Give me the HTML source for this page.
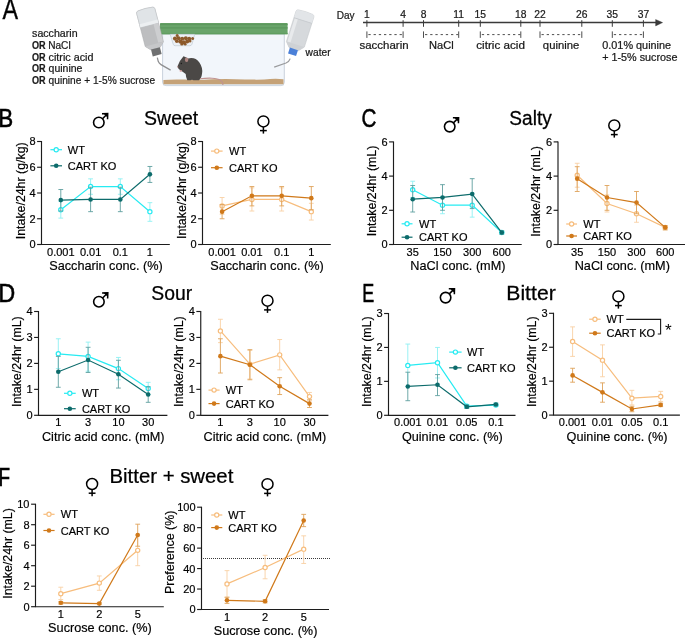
<!DOCTYPE html>
<html><head><meta charset="utf-8"><style>
html,body{margin:0;padding:0;background:#fff;}
body{width:685px;height:638px;overflow:hidden;}
svg{display:block;font-family:"Liberation Sans", sans-serif;will-change:transform;}
</style></head><body>
<svg width="685" height="638" viewBox="0 0 685 638">
<rect width="685" height="638" fill="#fff"/>
<path d="M41.50,141.00 L41.50,244.50 L169.80,244.50" fill="none" stroke="#1c1c1c" stroke-width="1.15"/>
<line x1="37.10" y1="244.50" x2="41.50" y2="244.50" stroke="#1c1c1c" stroke-width="1.15" />
<text x="35.50" y="248.45" font-size="11" text-anchor="end" font-weight="normal" fill="#000" stroke="#000" stroke-width="0.18">0</text>
<line x1="37.10" y1="218.75" x2="41.50" y2="218.75" stroke="#1c1c1c" stroke-width="1.15" />
<text x="35.50" y="222.70" font-size="11" text-anchor="end" font-weight="normal" fill="#000" stroke="#000" stroke-width="0.18">2</text>
<line x1="37.10" y1="193.00" x2="41.50" y2="193.00" stroke="#1c1c1c" stroke-width="1.15" />
<text x="35.50" y="196.95" font-size="11" text-anchor="end" font-weight="normal" fill="#000" stroke="#000" stroke-width="0.18">4</text>
<line x1="37.10" y1="167.25" x2="41.50" y2="167.25" stroke="#1c1c1c" stroke-width="1.15" />
<text x="35.50" y="171.20" font-size="11" text-anchor="end" font-weight="normal" fill="#000" stroke="#000" stroke-width="0.18">6</text>
<line x1="37.10" y1="141.50" x2="41.50" y2="141.50" stroke="#1c1c1c" stroke-width="1.15" />
<text x="35.50" y="145.45" font-size="11" text-anchor="end" font-weight="normal" fill="#000" stroke="#000" stroke-width="0.18">8</text>
<text x="60.80" y="255.50" font-size="11" text-anchor="middle" font-weight="normal" fill="#000" stroke="#000" stroke-width="0.18">0.001</text>
<text x="90.60" y="255.50" font-size="11" text-anchor="middle" font-weight="normal" fill="#000" stroke="#000" stroke-width="0.18">0.01</text>
<text x="120.30" y="255.50" font-size="11" text-anchor="middle" font-weight="normal" fill="#000" stroke="#000" stroke-width="0.18">0.1</text>
<text x="149.90" y="255.50" font-size="11" text-anchor="middle" font-weight="normal" fill="#000" stroke="#000" stroke-width="0.18">1</text>
<text x="105.95" y="270.00" font-size="12.7" text-anchor="middle" font-weight="normal" fill="#000" stroke="#000" stroke-width="0.18">Saccharin conc. (%)</text>
<text x="0" y="0" font-size="12.9" stroke="#000" stroke-width="0.18" text-anchor="middle" textLength="96.8" lengthAdjust="spacingAndGlyphs" transform="translate(24.80,190.80) rotate(-90)">Intake/24hr (g/kg)</text>
<line x1="60.80" y1="218.11" x2="60.80" y2="201.37" stroke="#8ff0f3" stroke-width="0.9" />
<line x1="58.40" y1="218.11" x2="63.20" y2="218.11" stroke="#8ff0f3" stroke-width="0.9" />
<line x1="58.40" y1="201.37" x2="63.20" y2="201.37" stroke="#8ff0f3" stroke-width="0.9" />
<line x1="90.60" y1="194.29" x2="90.60" y2="178.84" stroke="#8ff0f3" stroke-width="0.9" />
<line x1="88.20" y1="194.29" x2="93.00" y2="194.29" stroke="#8ff0f3" stroke-width="0.9" />
<line x1="88.20" y1="178.84" x2="93.00" y2="178.84" stroke="#8ff0f3" stroke-width="0.9" />
<line x1="120.30" y1="194.29" x2="120.30" y2="178.84" stroke="#8ff0f3" stroke-width="0.9" />
<line x1="117.90" y1="194.29" x2="122.70" y2="194.29" stroke="#8ff0f3" stroke-width="0.9" />
<line x1="117.90" y1="178.84" x2="122.70" y2="178.84" stroke="#8ff0f3" stroke-width="0.9" />
<line x1="149.90" y1="221.32" x2="149.90" y2="202.66" stroke="#8ff0f3" stroke-width="0.9" />
<line x1="147.50" y1="221.32" x2="152.30" y2="221.32" stroke="#8ff0f3" stroke-width="0.9" />
<line x1="147.50" y1="202.66" x2="152.30" y2="202.66" stroke="#8ff0f3" stroke-width="0.9" />
<path d="M60.80,209.74 L90.60,186.56 L120.30,186.56 L149.90,211.67" fill="none" stroke="#26ebf2" stroke-width="1.2"/>
<circle cx="60.80" cy="209.74" r="2.1" fill="#fff" stroke="#26ebf2" stroke-width="1.2"/>
<circle cx="90.60" cy="186.56" r="2.1" fill="#fff" stroke="#26ebf2" stroke-width="1.2"/>
<circle cx="120.30" cy="186.56" r="2.1" fill="#fff" stroke="#26ebf2" stroke-width="1.2"/>
<circle cx="149.90" cy="211.67" r="2.1" fill="#fff" stroke="#26ebf2" stroke-width="1.2"/>
<line x1="60.80" y1="211.03" x2="60.80" y2="189.52" stroke="#5f9f9f" stroke-width="0.9" />
<line x1="58.40" y1="211.03" x2="63.20" y2="211.03" stroke="#5f9f9f" stroke-width="0.9" />
<line x1="58.40" y1="189.52" x2="63.20" y2="189.52" stroke="#5f9f9f" stroke-width="0.9" />
<line x1="90.60" y1="211.67" x2="90.60" y2="187.21" stroke="#5f9f9f" stroke-width="0.9" />
<line x1="88.20" y1="211.67" x2="93.00" y2="211.67" stroke="#5f9f9f" stroke-width="0.9" />
<line x1="88.20" y1="187.21" x2="93.00" y2="187.21" stroke="#5f9f9f" stroke-width="0.9" />
<line x1="120.30" y1="211.67" x2="120.30" y2="187.21" stroke="#5f9f9f" stroke-width="0.9" />
<line x1="117.90" y1="211.67" x2="122.70" y2="211.67" stroke="#5f9f9f" stroke-width="0.9" />
<line x1="117.90" y1="187.21" x2="122.70" y2="187.21" stroke="#5f9f9f" stroke-width="0.9" />
<line x1="149.90" y1="182.44" x2="149.90" y2="166.48" stroke="#5f9f9f" stroke-width="0.9" />
<line x1="147.50" y1="182.44" x2="152.30" y2="182.44" stroke="#5f9f9f" stroke-width="0.9" />
<line x1="147.50" y1="166.48" x2="152.30" y2="166.48" stroke="#5f9f9f" stroke-width="0.9" />
<path d="M60.80,200.08 L90.60,199.44 L120.30,199.44 L149.90,174.33" fill="none" stroke="#0c6b6b" stroke-width="1.2"/>
<circle cx="60.80" cy="200.08" r="2.3" fill="#0c6b6b"/>
<circle cx="90.60" cy="199.44" r="2.3" fill="#0c6b6b"/>
<circle cx="120.30" cy="199.44" r="2.3" fill="#0c6b6b"/>
<circle cx="149.90" cy="174.33" r="2.3" fill="#0c6b6b"/>
<line x1="50.40" y1="149.70" x2="62.00" y2="149.70" stroke="#26ebf2" stroke-width="1.2" />
<circle cx="56.20" cy="149.70" r="2.1" fill="#fff" stroke="#26ebf2" stroke-width="1.2"/>
<text x="67.80" y="153.70" font-size="11" text-anchor="start" font-weight="normal" fill="#000" stroke="#000" stroke-width="0.18">WT</text>
<line x1="50.40" y1="165.80" x2="62.00" y2="165.80" stroke="#0c6b6b" stroke-width="1.2" />
<circle cx="56.20" cy="165.80" r="2.3" fill="#0c6b6b"/>
<text x="67.80" y="169.80" font-size="11" text-anchor="start" font-weight="normal" fill="#000" stroke="#000" stroke-width="0.18">CART KO</text>
<path d="M202.50,141.00 L202.50,244.50 L330.80,244.50" fill="none" stroke="#1c1c1c" stroke-width="1.15"/>
<line x1="198.10" y1="244.50" x2="202.50" y2="244.50" stroke="#1c1c1c" stroke-width="1.15" />
<text x="196.50" y="248.45" font-size="11" text-anchor="end" font-weight="normal" fill="#000" stroke="#000" stroke-width="0.18">0</text>
<line x1="198.10" y1="218.75" x2="202.50" y2="218.75" stroke="#1c1c1c" stroke-width="1.15" />
<text x="196.50" y="222.70" font-size="11" text-anchor="end" font-weight="normal" fill="#000" stroke="#000" stroke-width="0.18">2</text>
<line x1="198.10" y1="193.00" x2="202.50" y2="193.00" stroke="#1c1c1c" stroke-width="1.15" />
<text x="196.50" y="196.95" font-size="11" text-anchor="end" font-weight="normal" fill="#000" stroke="#000" stroke-width="0.18">4</text>
<line x1="198.10" y1="167.25" x2="202.50" y2="167.25" stroke="#1c1c1c" stroke-width="1.15" />
<text x="196.50" y="171.20" font-size="11" text-anchor="end" font-weight="normal" fill="#000" stroke="#000" stroke-width="0.18">6</text>
<line x1="198.10" y1="141.50" x2="202.50" y2="141.50" stroke="#1c1c1c" stroke-width="1.15" />
<text x="196.50" y="145.45" font-size="11" text-anchor="end" font-weight="normal" fill="#000" stroke="#000" stroke-width="0.18">8</text>
<text x="222.10" y="255.50" font-size="11" text-anchor="middle" font-weight="normal" fill="#000" stroke="#000" stroke-width="0.18">0.001</text>
<text x="251.90" y="255.50" font-size="11" text-anchor="middle" font-weight="normal" fill="#000" stroke="#000" stroke-width="0.18">0.01</text>
<text x="281.70" y="255.50" font-size="11" text-anchor="middle" font-weight="normal" fill="#000" stroke="#000" stroke-width="0.18">0.1</text>
<text x="311.30" y="255.50" font-size="11" text-anchor="middle" font-weight="normal" fill="#000" stroke="#000" stroke-width="0.18">1</text>
<text x="266.95" y="270.00" font-size="12.7" text-anchor="middle" font-weight="normal" fill="#000" stroke="#000" stroke-width="0.18">Saccharin conc. (%)</text>
<text x="0" y="0" font-size="12.9" stroke="#000" stroke-width="0.18" text-anchor="middle" textLength="96.8" lengthAdjust="spacingAndGlyphs" transform="translate(185.90,190.50) rotate(-90)">Intake/24hr (g/kg)</text>
<line x1="222.10" y1="214.24" x2="222.10" y2="197.51" stroke="#f8d0a4" stroke-width="0.9" />
<line x1="219.70" y1="214.24" x2="224.50" y2="214.24" stroke="#f8d0a4" stroke-width="0.9" />
<line x1="219.70" y1="197.51" x2="224.50" y2="197.51" stroke="#f8d0a4" stroke-width="0.9" />
<line x1="251.90" y1="211.03" x2="251.90" y2="187.85" stroke="#f8d0a4" stroke-width="0.9" />
<line x1="249.50" y1="211.03" x2="254.30" y2="211.03" stroke="#f8d0a4" stroke-width="0.9" />
<line x1="249.50" y1="187.85" x2="254.30" y2="187.85" stroke="#f8d0a4" stroke-width="0.9" />
<line x1="281.70" y1="211.03" x2="281.70" y2="187.85" stroke="#f8d0a4" stroke-width="0.9" />
<line x1="279.30" y1="211.03" x2="284.10" y2="211.03" stroke="#f8d0a4" stroke-width="0.9" />
<line x1="279.30" y1="187.85" x2="284.10" y2="187.85" stroke="#f8d0a4" stroke-width="0.9" />
<line x1="311.30" y1="220.04" x2="311.30" y2="203.30" stroke="#f8d0a4" stroke-width="0.9" />
<line x1="308.90" y1="220.04" x2="313.70" y2="220.04" stroke="#f8d0a4" stroke-width="0.9" />
<line x1="308.90" y1="203.30" x2="313.70" y2="203.30" stroke="#f8d0a4" stroke-width="0.9" />
<path d="M222.10,205.88 L251.90,199.44 L281.70,199.44 L311.30,211.67" fill="none" stroke="#f7bd7d" stroke-width="1.2"/>
<circle cx="222.10" cy="205.88" r="2.1" fill="#fff" stroke="#f7bd7d" stroke-width="1.2"/>
<circle cx="251.90" cy="199.44" r="2.1" fill="#fff" stroke="#f7bd7d" stroke-width="1.2"/>
<circle cx="281.70" cy="199.44" r="2.1" fill="#fff" stroke="#f7bd7d" stroke-width="1.2"/>
<circle cx="311.30" cy="211.67" r="2.1" fill="#fff" stroke="#f7bd7d" stroke-width="1.2"/>
<line x1="222.10" y1="218.75" x2="222.10" y2="204.59" stroke="#dfa35a" stroke-width="0.9" />
<line x1="219.70" y1="218.75" x2="224.50" y2="218.75" stroke="#dfa35a" stroke-width="0.9" />
<line x1="219.70" y1="204.59" x2="224.50" y2="204.59" stroke="#dfa35a" stroke-width="0.9" />
<line x1="251.90" y1="205.88" x2="251.90" y2="186.56" stroke="#dfa35a" stroke-width="0.9" />
<line x1="249.50" y1="205.88" x2="254.30" y2="205.88" stroke="#dfa35a" stroke-width="0.9" />
<line x1="249.50" y1="186.56" x2="254.30" y2="186.56" stroke="#dfa35a" stroke-width="0.9" />
<line x1="281.70" y1="205.88" x2="281.70" y2="186.56" stroke="#dfa35a" stroke-width="0.9" />
<line x1="279.30" y1="205.88" x2="284.10" y2="205.88" stroke="#dfa35a" stroke-width="0.9" />
<line x1="279.30" y1="186.56" x2="284.10" y2="186.56" stroke="#dfa35a" stroke-width="0.9" />
<line x1="311.30" y1="209.74" x2="311.30" y2="186.56" stroke="#dfa35a" stroke-width="0.9" />
<line x1="308.90" y1="209.74" x2="313.70" y2="209.74" stroke="#dfa35a" stroke-width="0.9" />
<line x1="308.90" y1="186.56" x2="313.70" y2="186.56" stroke="#dfa35a" stroke-width="0.9" />
<path d="M222.10,211.67 L251.90,195.83 L281.70,195.83 L311.30,198.15" fill="none" stroke="#d0791a" stroke-width="1.2"/>
<circle cx="222.10" cy="211.67" r="2.3" fill="#d0791a"/>
<circle cx="251.90" cy="195.83" r="2.3" fill="#d0791a"/>
<circle cx="281.70" cy="195.83" r="2.3" fill="#d0791a"/>
<circle cx="311.30" cy="198.15" r="2.3" fill="#d0791a"/>
<line x1="211.00" y1="151.10" x2="222.60" y2="151.10" stroke="#f7bd7d" stroke-width="1.2" />
<circle cx="216.80" cy="151.10" r="2.1" fill="#fff" stroke="#f7bd7d" stroke-width="1.2"/>
<text x="229.00" y="155.10" font-size="11" text-anchor="start" font-weight="normal" fill="#000" stroke="#000" stroke-width="0.18">WT</text>
<line x1="211.00" y1="167.70" x2="222.60" y2="167.70" stroke="#d0791a" stroke-width="1.2" />
<circle cx="216.80" cy="167.70" r="2.3" fill="#d0791a"/>
<text x="229.00" y="171.70" font-size="11" text-anchor="start" font-weight="normal" fill="#000" stroke="#000" stroke-width="0.18">CART KO</text>
<path d="M393.50,141.40 L393.50,244.50 L521.70,244.50" fill="none" stroke="#1c1c1c" stroke-width="1.15"/>
<line x1="389.10" y1="244.50" x2="393.50" y2="244.50" stroke="#1c1c1c" stroke-width="1.15" />
<text x="387.50" y="248.45" font-size="11" text-anchor="end" font-weight="normal" fill="#000" stroke="#000" stroke-width="0.18">0</text>
<line x1="389.10" y1="210.30" x2="393.50" y2="210.30" stroke="#1c1c1c" stroke-width="1.15" />
<text x="387.50" y="214.25" font-size="11" text-anchor="end" font-weight="normal" fill="#000" stroke="#000" stroke-width="0.18">2</text>
<line x1="389.10" y1="176.10" x2="393.50" y2="176.10" stroke="#1c1c1c" stroke-width="1.15" />
<text x="387.50" y="180.05" font-size="11" text-anchor="end" font-weight="normal" fill="#000" stroke="#000" stroke-width="0.18">4</text>
<line x1="389.10" y1="141.90" x2="393.50" y2="141.90" stroke="#1c1c1c" stroke-width="1.15" />
<text x="387.50" y="145.85" font-size="11" text-anchor="end" font-weight="normal" fill="#000" stroke="#000" stroke-width="0.18">6</text>
<text x="412.70" y="255.50" font-size="11" text-anchor="middle" font-weight="normal" fill="#000" stroke="#000" stroke-width="0.18">35</text>
<text x="442.50" y="255.50" font-size="11" text-anchor="middle" font-weight="normal" fill="#000" stroke="#000" stroke-width="0.18">150</text>
<text x="472.20" y="255.50" font-size="11" text-anchor="middle" font-weight="normal" fill="#000" stroke="#000" stroke-width="0.18">300</text>
<text x="501.80" y="255.50" font-size="11" text-anchor="middle" font-weight="normal" fill="#000" stroke="#000" stroke-width="0.18">600</text>
<text x="457.90" y="270.00" font-size="12.7" text-anchor="middle" font-weight="normal" fill="#000" stroke="#000" stroke-width="0.18">NaCl conc. (mM)</text>
<text x="0" y="0" font-size="12.9" stroke="#000" stroke-width="0.18" text-anchor="middle" textLength="90.6" lengthAdjust="spacingAndGlyphs" transform="translate(375.60,190.95) rotate(-90)">Intake/24hr (mL)</text>
<line x1="412.70" y1="197.47" x2="412.70" y2="181.23" stroke="#8ff0f3" stroke-width="0.9" />
<line x1="410.30" y1="197.47" x2="415.10" y2="197.47" stroke="#8ff0f3" stroke-width="0.9" />
<line x1="410.30" y1="181.23" x2="415.10" y2="181.23" stroke="#8ff0f3" stroke-width="0.9" />
<line x1="442.50" y1="213.72" x2="442.50" y2="196.62" stroke="#8ff0f3" stroke-width="0.9" />
<line x1="440.10" y1="213.72" x2="444.90" y2="213.72" stroke="#8ff0f3" stroke-width="0.9" />
<line x1="440.10" y1="196.62" x2="444.90" y2="196.62" stroke="#8ff0f3" stroke-width="0.9" />
<line x1="472.20" y1="217.14" x2="472.20" y2="193.20" stroke="#8ff0f3" stroke-width="0.9" />
<line x1="469.80" y1="217.14" x2="474.60" y2="217.14" stroke="#8ff0f3" stroke-width="0.9" />
<line x1="469.80" y1="193.20" x2="474.60" y2="193.20" stroke="#8ff0f3" stroke-width="0.9" />
<line x1="501.80" y1="233.90" x2="501.80" y2="231.16" stroke="#8ff0f3" stroke-width="0.9" />
<line x1="499.40" y1="233.90" x2="504.20" y2="233.90" stroke="#8ff0f3" stroke-width="0.9" />
<line x1="499.40" y1="231.16" x2="504.20" y2="231.16" stroke="#8ff0f3" stroke-width="0.9" />
<path d="M412.70,189.78 L442.50,205.17 L472.20,205.17 L501.80,232.53" fill="none" stroke="#26ebf2" stroke-width="1.2"/>
<circle cx="412.70" cy="189.78" r="2.1" fill="#fff" stroke="#26ebf2" stroke-width="1.2"/>
<circle cx="442.50" cy="205.17" r="2.1" fill="#fff" stroke="#26ebf2" stroke-width="1.2"/>
<circle cx="472.20" cy="205.17" r="2.1" fill="#fff" stroke="#26ebf2" stroke-width="1.2"/>
<circle cx="501.80" cy="232.53" r="2.1" fill="#fff" stroke="#26ebf2" stroke-width="1.2"/>
<line x1="412.70" y1="212.01" x2="412.70" y2="185.50" stroke="#5f9f9f" stroke-width="0.9" />
<line x1="410.30" y1="212.01" x2="415.10" y2="212.01" stroke="#5f9f9f" stroke-width="0.9" />
<line x1="410.30" y1="185.50" x2="415.10" y2="185.50" stroke="#5f9f9f" stroke-width="0.9" />
<line x1="442.50" y1="210.30" x2="442.50" y2="184.65" stroke="#5f9f9f" stroke-width="0.9" />
<line x1="440.10" y1="210.30" x2="444.90" y2="210.30" stroke="#5f9f9f" stroke-width="0.9" />
<line x1="440.10" y1="184.65" x2="444.90" y2="184.65" stroke="#5f9f9f" stroke-width="0.9" />
<line x1="472.20" y1="208.59" x2="472.20" y2="178.66" stroke="#5f9f9f" stroke-width="0.9" />
<line x1="469.80" y1="208.59" x2="474.60" y2="208.59" stroke="#5f9f9f" stroke-width="0.9" />
<line x1="469.80" y1="178.66" x2="474.60" y2="178.66" stroke="#5f9f9f" stroke-width="0.9" />
<line x1="501.80" y1="234.24" x2="501.80" y2="230.82" stroke="#5f9f9f" stroke-width="0.9" />
<line x1="499.40" y1="234.24" x2="504.20" y2="234.24" stroke="#5f9f9f" stroke-width="0.9" />
<line x1="499.40" y1="230.82" x2="504.20" y2="230.82" stroke="#5f9f9f" stroke-width="0.9" />
<path d="M412.70,199.19 L442.50,197.47 L472.20,194.06 L501.80,232.53" fill="none" stroke="#0c6b6b" stroke-width="1.2"/>
<circle cx="412.70" cy="199.19" r="2.3" fill="#0c6b6b"/>
<circle cx="442.50" cy="197.47" r="2.3" fill="#0c6b6b"/>
<circle cx="472.20" cy="194.06" r="2.3" fill="#0c6b6b"/>
<circle cx="501.80" cy="232.53" r="2.3" fill="#0c6b6b"/>
<line x1="401.60" y1="223.80" x2="412.50" y2="223.80" stroke="#26ebf2" stroke-width="1.2" />
<circle cx="407.05" cy="223.80" r="2.1" fill="#fff" stroke="#26ebf2" stroke-width="1.2"/>
<text x="419.00" y="227.80" font-size="11" text-anchor="start" font-weight="normal" fill="#000" stroke="#000" stroke-width="0.18">WT</text>
<line x1="401.60" y1="237.20" x2="412.50" y2="237.20" stroke="#0c6b6b" stroke-width="1.2" />
<circle cx="407.05" cy="237.20" r="2.3" fill="#0c6b6b"/>
<text x="419.00" y="241.20" font-size="11" text-anchor="start" font-weight="normal" fill="#000" stroke="#000" stroke-width="0.18">CART KO</text>
<path d="M558.00,141.40 L558.00,244.50 L686.00,244.50" fill="none" stroke="#1c1c1c" stroke-width="1.15"/>
<line x1="553.60" y1="244.50" x2="558.00" y2="244.50" stroke="#1c1c1c" stroke-width="1.15" />
<text x="552.00" y="248.45" font-size="11" text-anchor="end" font-weight="normal" fill="#000" stroke="#000" stroke-width="0.18">0</text>
<line x1="553.60" y1="210.30" x2="558.00" y2="210.30" stroke="#1c1c1c" stroke-width="1.15" />
<text x="552.00" y="214.25" font-size="11" text-anchor="end" font-weight="normal" fill="#000" stroke="#000" stroke-width="0.18">2</text>
<line x1="553.60" y1="176.10" x2="558.00" y2="176.10" stroke="#1c1c1c" stroke-width="1.15" />
<text x="552.00" y="180.05" font-size="11" text-anchor="end" font-weight="normal" fill="#000" stroke="#000" stroke-width="0.18">4</text>
<line x1="553.60" y1="141.90" x2="558.00" y2="141.90" stroke="#1c1c1c" stroke-width="1.15" />
<text x="552.00" y="145.85" font-size="11" text-anchor="end" font-weight="normal" fill="#000" stroke="#000" stroke-width="0.18">6</text>
<text x="577.20" y="255.50" font-size="11" text-anchor="middle" font-weight="normal" fill="#000" stroke="#000" stroke-width="0.18">35</text>
<text x="607.00" y="255.50" font-size="11" text-anchor="middle" font-weight="normal" fill="#000" stroke="#000" stroke-width="0.18">150</text>
<text x="636.50" y="255.50" font-size="11" text-anchor="middle" font-weight="normal" fill="#000" stroke="#000" stroke-width="0.18">300</text>
<text x="665.20" y="255.50" font-size="11" text-anchor="middle" font-weight="normal" fill="#000" stroke="#000" stroke-width="0.18">600</text>
<text x="622.30" y="270.00" font-size="12.7" text-anchor="middle" font-weight="normal" fill="#000" stroke="#000" stroke-width="0.18">NaCl conc. (mM)</text>
<text x="0" y="0" font-size="12.9" stroke="#000" stroke-width="0.18" text-anchor="middle" textLength="90.6" lengthAdjust="spacingAndGlyphs" transform="translate(540.10,191.45) rotate(-90)">Intake/24hr (mL)</text>
<line x1="577.20" y1="187.22" x2="577.20" y2="163.27" stroke="#f8d0a4" stroke-width="0.9" />
<line x1="574.80" y1="187.22" x2="579.60" y2="187.22" stroke="#f8d0a4" stroke-width="0.9" />
<line x1="574.80" y1="163.27" x2="579.60" y2="163.27" stroke="#f8d0a4" stroke-width="0.9" />
<line x1="607.00" y1="212.01" x2="607.00" y2="194.91" stroke="#f8d0a4" stroke-width="0.9" />
<line x1="604.60" y1="212.01" x2="609.40" y2="212.01" stroke="#f8d0a4" stroke-width="0.9" />
<line x1="604.60" y1="194.91" x2="609.40" y2="194.91" stroke="#f8d0a4" stroke-width="0.9" />
<line x1="636.50" y1="222.27" x2="636.50" y2="205.17" stroke="#f8d0a4" stroke-width="0.9" />
<line x1="634.10" y1="222.27" x2="638.90" y2="222.27" stroke="#f8d0a4" stroke-width="0.9" />
<line x1="634.10" y1="205.17" x2="638.90" y2="205.17" stroke="#f8d0a4" stroke-width="0.9" />
<line x1="665.20" y1="229.11" x2="665.20" y2="225.69" stroke="#f8d0a4" stroke-width="0.9" />
<line x1="662.80" y1="229.11" x2="667.60" y2="229.11" stroke="#f8d0a4" stroke-width="0.9" />
<line x1="662.80" y1="225.69" x2="667.60" y2="225.69" stroke="#f8d0a4" stroke-width="0.9" />
<path d="M577.20,175.25 L607.00,203.46 L636.50,213.72 L665.20,227.40" fill="none" stroke="#f7bd7d" stroke-width="1.2"/>
<circle cx="577.20" cy="175.25" r="2.1" fill="#fff" stroke="#f7bd7d" stroke-width="1.2"/>
<circle cx="607.00" cy="203.46" r="2.1" fill="#fff" stroke="#f7bd7d" stroke-width="1.2"/>
<circle cx="636.50" cy="213.72" r="2.1" fill="#fff" stroke="#f7bd7d" stroke-width="1.2"/>
<circle cx="665.20" cy="227.40" r="2.1" fill="#fff" stroke="#f7bd7d" stroke-width="1.2"/>
<line x1="577.20" y1="191.49" x2="577.20" y2="166.69" stroke="#dfa35a" stroke-width="0.9" />
<line x1="574.80" y1="191.49" x2="579.60" y2="191.49" stroke="#dfa35a" stroke-width="0.9" />
<line x1="574.80" y1="166.69" x2="579.60" y2="166.69" stroke="#dfa35a" stroke-width="0.9" />
<line x1="607.00" y1="210.30" x2="607.00" y2="185.50" stroke="#dfa35a" stroke-width="0.9" />
<line x1="604.60" y1="210.30" x2="609.40" y2="210.30" stroke="#dfa35a" stroke-width="0.9" />
<line x1="604.60" y1="185.50" x2="609.40" y2="185.50" stroke="#dfa35a" stroke-width="0.9" />
<line x1="636.50" y1="213.72" x2="636.50" y2="191.49" stroke="#dfa35a" stroke-width="0.9" />
<line x1="634.10" y1="213.72" x2="638.90" y2="213.72" stroke="#dfa35a" stroke-width="0.9" />
<line x1="634.10" y1="191.49" x2="638.90" y2="191.49" stroke="#dfa35a" stroke-width="0.9" />
<line x1="665.20" y1="229.97" x2="665.20" y2="225.69" stroke="#dfa35a" stroke-width="0.9" />
<line x1="662.80" y1="229.97" x2="667.60" y2="229.97" stroke="#dfa35a" stroke-width="0.9" />
<line x1="662.80" y1="225.69" x2="667.60" y2="225.69" stroke="#dfa35a" stroke-width="0.9" />
<path d="M577.20,178.66 L607.00,197.47 L636.50,202.60 L665.20,227.40" fill="none" stroke="#d0791a" stroke-width="1.2"/>
<circle cx="577.20" cy="178.66" r="2.3" fill="#d0791a"/>
<circle cx="607.00" cy="197.47" r="2.3" fill="#d0791a"/>
<circle cx="636.50" cy="202.60" r="2.3" fill="#d0791a"/>
<circle cx="665.20" cy="227.40" r="2.3" fill="#d0791a"/>
<line x1="566.20" y1="224.00" x2="577.00" y2="224.00" stroke="#f7bd7d" stroke-width="1.2" />
<circle cx="571.60" cy="224.00" r="2.1" fill="#fff" stroke="#f7bd7d" stroke-width="1.2"/>
<text x="583.30" y="228.00" font-size="11" text-anchor="start" font-weight="normal" fill="#000" stroke="#000" stroke-width="0.18">WT</text>
<line x1="566.20" y1="236.00" x2="577.00" y2="236.00" stroke="#d0791a" stroke-width="1.2" />
<circle cx="571.60" cy="236.00" r="2.3" fill="#d0791a"/>
<text x="583.30" y="240.00" font-size="11" text-anchor="start" font-weight="normal" fill="#000" stroke="#000" stroke-width="0.18">CART KO</text>
<path d="M38.50,311.00 L38.50,415.30 L167.40,415.30" fill="none" stroke="#1c1c1c" stroke-width="1.15"/>
<line x1="34.10" y1="415.30" x2="38.50" y2="415.30" stroke="#1c1c1c" stroke-width="1.15" />
<text x="32.50" y="419.25" font-size="11" text-anchor="end" font-weight="normal" fill="#000" stroke="#000" stroke-width="0.18">0</text>
<line x1="34.10" y1="389.35" x2="38.50" y2="389.35" stroke="#1c1c1c" stroke-width="1.15" />
<text x="32.50" y="393.30" font-size="11" text-anchor="end" font-weight="normal" fill="#000" stroke="#000" stroke-width="0.18">1</text>
<line x1="34.10" y1="363.40" x2="38.50" y2="363.40" stroke="#1c1c1c" stroke-width="1.15" />
<text x="32.50" y="367.35" font-size="11" text-anchor="end" font-weight="normal" fill="#000" stroke="#000" stroke-width="0.18">2</text>
<line x1="34.10" y1="337.45" x2="38.50" y2="337.45" stroke="#1c1c1c" stroke-width="1.15" />
<text x="32.50" y="341.40" font-size="11" text-anchor="end" font-weight="normal" fill="#000" stroke="#000" stroke-width="0.18">3</text>
<line x1="34.10" y1="311.50" x2="38.50" y2="311.50" stroke="#1c1c1c" stroke-width="1.15" />
<text x="32.50" y="315.45" font-size="11" text-anchor="end" font-weight="normal" fill="#000" stroke="#000" stroke-width="0.18">4</text>
<text x="58.30" y="426.30" font-size="11" text-anchor="middle" font-weight="normal" fill="#000" stroke="#000" stroke-width="0.18">1</text>
<text x="88.10" y="426.30" font-size="11" text-anchor="middle" font-weight="normal" fill="#000" stroke="#000" stroke-width="0.18">3</text>
<text x="118.40" y="426.30" font-size="11" text-anchor="middle" font-weight="normal" fill="#000" stroke="#000" stroke-width="0.18">10</text>
<text x="148.20" y="426.30" font-size="11" text-anchor="middle" font-weight="normal" fill="#000" stroke="#000" stroke-width="0.18">30</text>
<text x="103.25" y="440.80" font-size="12.7" text-anchor="middle" font-weight="normal" fill="#000" stroke="#000" stroke-width="0.18">Citric acid conc. (mM)</text>
<text x="0" y="0" font-size="12.9" stroke="#000" stroke-width="0.18" text-anchor="middle" textLength="90.6" lengthAdjust="spacingAndGlyphs" transform="translate(20.70,361.60) rotate(-90)">Intake/24hr (mL)</text>
<line x1="58.30" y1="368.59" x2="58.30" y2="338.75" stroke="#8ff0f3" stroke-width="0.9" />
<line x1="55.90" y1="368.59" x2="60.70" y2="368.59" stroke="#8ff0f3" stroke-width="0.9" />
<line x1="55.90" y1="338.75" x2="60.70" y2="338.75" stroke="#8ff0f3" stroke-width="0.9" />
<line x1="88.10" y1="371.19" x2="88.10" y2="342.12" stroke="#8ff0f3" stroke-width="0.9" />
<line x1="85.70" y1="371.19" x2="90.50" y2="371.19" stroke="#8ff0f3" stroke-width="0.9" />
<line x1="85.70" y1="342.12" x2="90.50" y2="342.12" stroke="#8ff0f3" stroke-width="0.9" />
<line x1="118.40" y1="379.75" x2="118.40" y2="357.43" stroke="#8ff0f3" stroke-width="0.9" />
<line x1="116.00" y1="379.75" x2="120.80" y2="379.75" stroke="#8ff0f3" stroke-width="0.9" />
<line x1="116.00" y1="357.43" x2="120.80" y2="357.43" stroke="#8ff0f3" stroke-width="0.9" />
<line x1="148.20" y1="394.54" x2="148.20" y2="382.34" stroke="#8ff0f3" stroke-width="0.9" />
<line x1="145.80" y1="394.54" x2="150.60" y2="394.54" stroke="#8ff0f3" stroke-width="0.9" />
<line x1="145.80" y1="382.34" x2="150.60" y2="382.34" stroke="#8ff0f3" stroke-width="0.9" />
<path d="M58.30,353.80 L88.10,356.39 L118.40,368.59 L148.20,388.57" fill="none" stroke="#26ebf2" stroke-width="1.2"/>
<circle cx="58.30" cy="353.80" r="2.1" fill="#fff" stroke="#26ebf2" stroke-width="1.2"/>
<circle cx="88.10" cy="356.39" r="2.1" fill="#fff" stroke="#26ebf2" stroke-width="1.2"/>
<circle cx="118.40" cy="368.59" r="2.1" fill="#fff" stroke="#26ebf2" stroke-width="1.2"/>
<circle cx="148.20" cy="388.57" r="2.1" fill="#fff" stroke="#26ebf2" stroke-width="1.2"/>
<line x1="58.30" y1="387.27" x2="58.30" y2="356.39" stroke="#5f9f9f" stroke-width="0.9" />
<line x1="55.90" y1="387.27" x2="60.70" y2="387.27" stroke="#5f9f9f" stroke-width="0.9" />
<line x1="55.90" y1="356.39" x2="60.70" y2="356.39" stroke="#5f9f9f" stroke-width="0.9" />
<line x1="88.10" y1="372.48" x2="88.10" y2="347.31" stroke="#5f9f9f" stroke-width="0.9" />
<line x1="85.70" y1="372.48" x2="90.50" y2="372.48" stroke="#5f9f9f" stroke-width="0.9" />
<line x1="85.70" y1="347.31" x2="90.50" y2="347.31" stroke="#5f9f9f" stroke-width="0.9" />
<line x1="118.40" y1="388.05" x2="118.40" y2="360.29" stroke="#5f9f9f" stroke-width="0.9" />
<line x1="116.00" y1="388.05" x2="120.80" y2="388.05" stroke="#5f9f9f" stroke-width="0.9" />
<line x1="116.00" y1="360.29" x2="120.80" y2="360.29" stroke="#5f9f9f" stroke-width="0.9" />
<line x1="148.20" y1="402.32" x2="148.20" y2="386.75" stroke="#5f9f9f" stroke-width="0.9" />
<line x1="145.80" y1="402.32" x2="150.60" y2="402.32" stroke="#5f9f9f" stroke-width="0.9" />
<line x1="145.80" y1="386.75" x2="150.60" y2="386.75" stroke="#5f9f9f" stroke-width="0.9" />
<path d="M58.30,371.70 L88.10,360.03 L118.40,374.30 L148.20,394.54" fill="none" stroke="#0c6b6b" stroke-width="1.2"/>
<circle cx="58.30" cy="371.70" r="2.3" fill="#0c6b6b"/>
<circle cx="88.10" cy="360.03" r="2.3" fill="#0c6b6b"/>
<circle cx="118.40" cy="374.30" r="2.3" fill="#0c6b6b"/>
<circle cx="148.20" cy="394.54" r="2.3" fill="#0c6b6b"/>
<line x1="64.00" y1="393.30" x2="75.70" y2="393.30" stroke="#26ebf2" stroke-width="1.2" />
<circle cx="69.85" cy="393.30" r="2.1" fill="#fff" stroke="#26ebf2" stroke-width="1.2"/>
<text x="81.90" y="397.30" font-size="11" text-anchor="start" font-weight="normal" fill="#000" stroke="#000" stroke-width="0.18">WT</text>
<line x1="64.00" y1="408.70" x2="75.70" y2="408.70" stroke="#0c6b6b" stroke-width="1.2" />
<circle cx="69.85" cy="408.70" r="2.3" fill="#0c6b6b"/>
<text x="81.90" y="412.70" font-size="11" text-anchor="start" font-weight="normal" fill="#000" stroke="#000" stroke-width="0.18">CART KO</text>
<path d="M200.75,311.00 L200.75,415.30 L328.40,415.30" fill="none" stroke="#1c1c1c" stroke-width="1.15"/>
<line x1="196.35" y1="415.30" x2="200.75" y2="415.30" stroke="#1c1c1c" stroke-width="1.15" />
<text x="194.75" y="419.25" font-size="11" text-anchor="end" font-weight="normal" fill="#000" stroke="#000" stroke-width="0.18">0</text>
<line x1="196.35" y1="389.35" x2="200.75" y2="389.35" stroke="#1c1c1c" stroke-width="1.15" />
<text x="194.75" y="393.30" font-size="11" text-anchor="end" font-weight="normal" fill="#000" stroke="#000" stroke-width="0.18">1</text>
<line x1="196.35" y1="363.40" x2="200.75" y2="363.40" stroke="#1c1c1c" stroke-width="1.15" />
<text x="194.75" y="367.35" font-size="11" text-anchor="end" font-weight="normal" fill="#000" stroke="#000" stroke-width="0.18">2</text>
<line x1="196.35" y1="337.45" x2="200.75" y2="337.45" stroke="#1c1c1c" stroke-width="1.15" />
<text x="194.75" y="341.40" font-size="11" text-anchor="end" font-weight="normal" fill="#000" stroke="#000" stroke-width="0.18">3</text>
<line x1="196.35" y1="311.50" x2="200.75" y2="311.50" stroke="#1c1c1c" stroke-width="1.15" />
<text x="194.75" y="315.45" font-size="11" text-anchor="end" font-weight="normal" fill="#000" stroke="#000" stroke-width="0.18">4</text>
<text x="220.40" y="426.30" font-size="11" text-anchor="middle" font-weight="normal" fill="#000" stroke="#000" stroke-width="0.18">1</text>
<text x="249.90" y="426.30" font-size="11" text-anchor="middle" font-weight="normal" fill="#000" stroke="#000" stroke-width="0.18">3</text>
<text x="279.70" y="426.30" font-size="11" text-anchor="middle" font-weight="normal" fill="#000" stroke="#000" stroke-width="0.18">10</text>
<text x="309.50" y="426.30" font-size="11" text-anchor="middle" font-weight="normal" fill="#000" stroke="#000" stroke-width="0.18">30</text>
<text x="264.88" y="440.80" font-size="12.7" text-anchor="middle" font-weight="normal" fill="#000" stroke="#000" stroke-width="0.18">Citric acid conc. (mM)</text>
<text x="0" y="0" font-size="12.9" stroke="#000" stroke-width="0.18" text-anchor="middle" textLength="90.6" lengthAdjust="spacingAndGlyphs" transform="translate(183.00,361.60) rotate(-90)">Intake/24hr (mL)</text>
<line x1="220.40" y1="342.64" x2="220.40" y2="319.29" stroke="#f8d0a4" stroke-width="0.9" />
<line x1="218.00" y1="342.64" x2="222.80" y2="342.64" stroke="#f8d0a4" stroke-width="0.9" />
<line x1="218.00" y1="319.29" x2="222.80" y2="319.29" stroke="#f8d0a4" stroke-width="0.9" />
<line x1="249.90" y1="378.97" x2="249.90" y2="350.43" stroke="#f8d0a4" stroke-width="0.9" />
<line x1="247.50" y1="378.97" x2="252.30" y2="378.97" stroke="#f8d0a4" stroke-width="0.9" />
<line x1="247.50" y1="350.43" x2="252.30" y2="350.43" stroke="#f8d0a4" stroke-width="0.9" />
<line x1="279.70" y1="369.89" x2="279.70" y2="339.53" stroke="#f8d0a4" stroke-width="0.9" />
<line x1="277.30" y1="369.89" x2="282.10" y2="369.89" stroke="#f8d0a4" stroke-width="0.9" />
<line x1="277.30" y1="339.53" x2="282.10" y2="339.53" stroke="#f8d0a4" stroke-width="0.9" />
<line x1="309.50" y1="400.77" x2="309.50" y2="392.46" stroke="#f8d0a4" stroke-width="0.9" />
<line x1="307.10" y1="400.77" x2="311.90" y2="400.77" stroke="#f8d0a4" stroke-width="0.9" />
<line x1="307.10" y1="392.46" x2="311.90" y2="392.46" stroke="#f8d0a4" stroke-width="0.9" />
<path d="M220.40,330.96 L249.90,364.18 L279.70,354.84 L309.50,396.62" fill="none" stroke="#f7bd7d" stroke-width="1.2"/>
<circle cx="220.40" cy="330.96" r="2.1" fill="#fff" stroke="#f7bd7d" stroke-width="1.2"/>
<circle cx="249.90" cy="364.18" r="2.1" fill="#fff" stroke="#f7bd7d" stroke-width="1.2"/>
<circle cx="279.70" cy="354.84" r="2.1" fill="#fff" stroke="#f7bd7d" stroke-width="1.2"/>
<circle cx="309.50" cy="396.62" r="2.1" fill="#fff" stroke="#f7bd7d" stroke-width="1.2"/>
<line x1="220.40" y1="373.00" x2="220.40" y2="338.75" stroke="#dfa35a" stroke-width="0.9" />
<line x1="218.00" y1="373.00" x2="222.80" y2="373.00" stroke="#dfa35a" stroke-width="0.9" />
<line x1="218.00" y1="338.75" x2="222.80" y2="338.75" stroke="#dfa35a" stroke-width="0.9" />
<line x1="249.90" y1="379.75" x2="249.90" y2="349.65" stroke="#dfa35a" stroke-width="0.9" />
<line x1="247.50" y1="379.75" x2="252.30" y2="379.75" stroke="#dfa35a" stroke-width="0.9" />
<line x1="247.50" y1="349.65" x2="252.30" y2="349.65" stroke="#dfa35a" stroke-width="0.9" />
<line x1="279.70" y1="394.54" x2="279.70" y2="377.67" stroke="#dfa35a" stroke-width="0.9" />
<line x1="277.30" y1="394.54" x2="282.10" y2="394.54" stroke="#dfa35a" stroke-width="0.9" />
<line x1="277.30" y1="377.67" x2="282.10" y2="377.67" stroke="#dfa35a" stroke-width="0.9" />
<line x1="309.50" y1="407.51" x2="309.50" y2="399.73" stroke="#dfa35a" stroke-width="0.9" />
<line x1="307.10" y1="407.51" x2="311.90" y2="407.51" stroke="#dfa35a" stroke-width="0.9" />
<line x1="307.10" y1="399.73" x2="311.90" y2="399.73" stroke="#dfa35a" stroke-width="0.9" />
<path d="M220.40,356.13 L249.90,364.70 L279.70,386.24 L309.50,403.62" fill="none" stroke="#d0791a" stroke-width="1.2"/>
<circle cx="220.40" cy="356.13" r="2.3" fill="#d0791a"/>
<circle cx="249.90" cy="364.70" r="2.3" fill="#d0791a"/>
<circle cx="279.70" cy="386.24" r="2.3" fill="#d0791a"/>
<circle cx="309.50" cy="403.62" r="2.3" fill="#d0791a"/>
<line x1="208.50" y1="390.10" x2="219.60" y2="390.10" stroke="#f7bd7d" stroke-width="1.2" />
<circle cx="214.05" cy="390.10" r="2.1" fill="#fff" stroke="#f7bd7d" stroke-width="1.2"/>
<text x="225.80" y="394.10" font-size="11" text-anchor="start" font-weight="normal" fill="#000" stroke="#000" stroke-width="0.18">WT</text>
<line x1="208.50" y1="403.60" x2="219.60" y2="403.60" stroke="#d0791a" stroke-width="1.2" />
<circle cx="214.05" cy="403.60" r="2.3" fill="#d0791a"/>
<text x="225.80" y="407.60" font-size="11" text-anchor="start" font-weight="normal" fill="#000" stroke="#000" stroke-width="0.18">CART KO</text>
<path d="M388.50,313.01 L388.50,415.30 L515.50,415.30" fill="none" stroke="#1c1c1c" stroke-width="1.15"/>
<line x1="384.10" y1="415.30" x2="388.50" y2="415.30" stroke="#1c1c1c" stroke-width="1.15" />
<text x="382.50" y="419.25" font-size="11" text-anchor="end" font-weight="normal" fill="#000" stroke="#000" stroke-width="0.18">0</text>
<line x1="384.10" y1="381.37" x2="388.50" y2="381.37" stroke="#1c1c1c" stroke-width="1.15" />
<text x="382.50" y="385.32" font-size="11" text-anchor="end" font-weight="normal" fill="#000" stroke="#000" stroke-width="0.18">1</text>
<line x1="384.10" y1="347.44" x2="388.50" y2="347.44" stroke="#1c1c1c" stroke-width="1.15" />
<text x="382.50" y="351.39" font-size="11" text-anchor="end" font-weight="normal" fill="#000" stroke="#000" stroke-width="0.18">2</text>
<line x1="384.10" y1="313.51" x2="388.50" y2="313.51" stroke="#1c1c1c" stroke-width="1.15" />
<text x="382.50" y="317.46" font-size="11" text-anchor="end" font-weight="normal" fill="#000" stroke="#000" stroke-width="0.18">3</text>
<text x="407.80" y="426.30" font-size="11" text-anchor="middle" font-weight="normal" fill="#000" stroke="#000" stroke-width="0.18">0.001</text>
<text x="437.50" y="426.30" font-size="11" text-anchor="middle" font-weight="normal" fill="#000" stroke="#000" stroke-width="0.18">0.01</text>
<text x="466.80" y="426.30" font-size="11" text-anchor="middle" font-weight="normal" fill="#000" stroke="#000" stroke-width="0.18">0.05</text>
<text x="495.90" y="426.30" font-size="11" text-anchor="middle" font-weight="normal" fill="#000" stroke="#000" stroke-width="0.18">0.1</text>
<text x="452.30" y="440.80" font-size="12.7" text-anchor="middle" font-weight="normal" fill="#000" stroke="#000" stroke-width="0.18">Quinine conc. (%)</text>
<text x="0" y="0" font-size="12.9" stroke="#000" stroke-width="0.18" text-anchor="middle" textLength="90.6" lengthAdjust="spacingAndGlyphs" transform="translate(370.90,361.70) rotate(-90)">Intake/24hr (mL)</text>
<line x1="407.80" y1="386.46" x2="407.80" y2="344.05" stroke="#8ff0f3" stroke-width="0.9" />
<line x1="405.40" y1="386.46" x2="410.20" y2="386.46" stroke="#8ff0f3" stroke-width="0.9" />
<line x1="405.40" y1="344.05" x2="410.20" y2="344.05" stroke="#8ff0f3" stroke-width="0.9" />
<line x1="437.50" y1="377.98" x2="437.50" y2="347.44" stroke="#8ff0f3" stroke-width="0.9" />
<line x1="435.10" y1="377.98" x2="439.90" y2="377.98" stroke="#8ff0f3" stroke-width="0.9" />
<line x1="435.10" y1="347.44" x2="439.90" y2="347.44" stroke="#8ff0f3" stroke-width="0.9" />
<line x1="466.80" y1="407.84" x2="466.80" y2="404.44" stroke="#8ff0f3" stroke-width="0.9" />
<line x1="464.40" y1="407.84" x2="469.20" y2="407.84" stroke="#8ff0f3" stroke-width="0.9" />
<line x1="464.40" y1="404.44" x2="469.20" y2="404.44" stroke="#8ff0f3" stroke-width="0.9" />
<line x1="495.90" y1="405.80" x2="495.90" y2="403.76" stroke="#8ff0f3" stroke-width="0.9" />
<line x1="493.50" y1="405.80" x2="498.30" y2="405.80" stroke="#8ff0f3" stroke-width="0.9" />
<line x1="493.50" y1="403.76" x2="498.30" y2="403.76" stroke="#8ff0f3" stroke-width="0.9" />
<path d="M407.80,365.42 L437.50,362.71 L466.80,406.14 L495.90,405.12" fill="none" stroke="#26ebf2" stroke-width="1.2"/>
<circle cx="407.80" cy="365.42" r="2.1" fill="#fff" stroke="#26ebf2" stroke-width="1.2"/>
<circle cx="437.50" cy="362.71" r="2.1" fill="#fff" stroke="#26ebf2" stroke-width="1.2"/>
<circle cx="466.80" cy="406.14" r="2.1" fill="#fff" stroke="#26ebf2" stroke-width="1.2"/>
<circle cx="495.90" cy="405.12" r="2.1" fill="#fff" stroke="#26ebf2" stroke-width="1.2"/>
<line x1="407.80" y1="400.71" x2="407.80" y2="372.21" stroke="#5f9f9f" stroke-width="0.9" />
<line x1="405.40" y1="400.71" x2="410.20" y2="400.71" stroke="#5f9f9f" stroke-width="0.9" />
<line x1="405.40" y1="372.21" x2="410.20" y2="372.21" stroke="#5f9f9f" stroke-width="0.9" />
<line x1="437.50" y1="395.62" x2="437.50" y2="374.58" stroke="#5f9f9f" stroke-width="0.9" />
<line x1="435.10" y1="395.62" x2="439.90" y2="395.62" stroke="#5f9f9f" stroke-width="0.9" />
<line x1="435.10" y1="374.58" x2="439.90" y2="374.58" stroke="#5f9f9f" stroke-width="0.9" />
<line x1="466.80" y1="408.51" x2="466.80" y2="405.12" stroke="#5f9f9f" stroke-width="0.9" />
<line x1="464.40" y1="408.51" x2="469.20" y2="408.51" stroke="#5f9f9f" stroke-width="0.9" />
<line x1="464.40" y1="405.12" x2="469.20" y2="405.12" stroke="#5f9f9f" stroke-width="0.9" />
<line x1="495.90" y1="405.80" x2="495.90" y2="403.09" stroke="#5f9f9f" stroke-width="0.9" />
<line x1="493.50" y1="405.80" x2="498.30" y2="405.80" stroke="#5f9f9f" stroke-width="0.9" />
<line x1="493.50" y1="403.09" x2="498.30" y2="403.09" stroke="#5f9f9f" stroke-width="0.9" />
<path d="M407.80,386.46 L437.50,384.76 L466.80,406.82 L495.90,404.44" fill="none" stroke="#0c6b6b" stroke-width="1.2"/>
<circle cx="407.80" cy="386.46" r="2.3" fill="#0c6b6b"/>
<circle cx="437.50" cy="384.76" r="2.3" fill="#0c6b6b"/>
<circle cx="466.80" cy="406.82" r="2.3" fill="#0c6b6b"/>
<circle cx="495.90" cy="404.44" r="2.3" fill="#0c6b6b"/>
<line x1="449.20" y1="352.10" x2="461.60" y2="352.10" stroke="#26ebf2" stroke-width="1.2" />
<circle cx="455.40" cy="352.10" r="2.1" fill="#fff" stroke="#26ebf2" stroke-width="1.2"/>
<text x="467.00" y="356.10" font-size="11" text-anchor="start" font-weight="normal" fill="#000" stroke="#000" stroke-width="0.18">WT</text>
<line x1="449.20" y1="367.80" x2="461.60" y2="367.80" stroke="#0c6b6b" stroke-width="1.2" />
<circle cx="455.40" cy="367.80" r="2.3" fill="#0c6b6b"/>
<text x="467.00" y="371.80" font-size="11" text-anchor="start" font-weight="normal" fill="#000" stroke="#000" stroke-width="0.18">CART KO</text>
<path d="M553.50,312.81 L553.50,415.10 L679.90,415.10" fill="none" stroke="#1c1c1c" stroke-width="1.15"/>
<line x1="549.10" y1="415.10" x2="553.50" y2="415.10" stroke="#1c1c1c" stroke-width="1.15" />
<text x="547.50" y="419.05" font-size="11" text-anchor="end" font-weight="normal" fill="#000" stroke="#000" stroke-width="0.18">0</text>
<line x1="549.10" y1="381.17" x2="553.50" y2="381.17" stroke="#1c1c1c" stroke-width="1.15" />
<text x="547.50" y="385.12" font-size="11" text-anchor="end" font-weight="normal" fill="#000" stroke="#000" stroke-width="0.18">1</text>
<line x1="549.10" y1="347.24" x2="553.50" y2="347.24" stroke="#1c1c1c" stroke-width="1.15" />
<text x="547.50" y="351.19" font-size="11" text-anchor="end" font-weight="normal" fill="#000" stroke="#000" stroke-width="0.18">2</text>
<line x1="549.10" y1="313.31" x2="553.50" y2="313.31" stroke="#1c1c1c" stroke-width="1.15" />
<text x="547.50" y="317.26" font-size="11" text-anchor="end" font-weight="normal" fill="#000" stroke="#000" stroke-width="0.18">3</text>
<text x="572.60" y="426.10" font-size="11" text-anchor="middle" font-weight="normal" fill="#000" stroke="#000" stroke-width="0.18">0.001</text>
<text x="602.50" y="426.10" font-size="11" text-anchor="middle" font-weight="normal" fill="#000" stroke="#000" stroke-width="0.18">0.01</text>
<text x="631.90" y="426.10" font-size="11" text-anchor="middle" font-weight="normal" fill="#000" stroke="#000" stroke-width="0.18">0.05</text>
<text x="660.70" y="426.10" font-size="11" text-anchor="middle" font-weight="normal" fill="#000" stroke="#000" stroke-width="0.18">0.1</text>
<text x="617.00" y="440.60" font-size="12.7" text-anchor="middle" font-weight="normal" fill="#000" stroke="#000" stroke-width="0.18">Quinine conc. (%)</text>
<text x="0" y="0" font-size="12.9" stroke="#000" stroke-width="0.18" text-anchor="middle" textLength="90.6" lengthAdjust="spacingAndGlyphs" transform="translate(536.00,361.70) rotate(-90)">Intake/24hr (mL)</text>
<line x1="572.60" y1="356.40" x2="572.60" y2="326.88" stroke="#f8d0a4" stroke-width="0.9" />
<line x1="570.20" y1="356.40" x2="575.00" y2="356.40" stroke="#f8d0a4" stroke-width="0.9" />
<line x1="570.20" y1="326.88" x2="575.00" y2="326.88" stroke="#f8d0a4" stroke-width="0.9" />
<line x1="602.50" y1="376.76" x2="602.50" y2="344.86" stroke="#f8d0a4" stroke-width="0.9" />
<line x1="600.10" y1="376.76" x2="604.90" y2="376.76" stroke="#f8d0a4" stroke-width="0.9" />
<line x1="600.10" y1="344.86" x2="604.90" y2="344.86" stroke="#f8d0a4" stroke-width="0.9" />
<line x1="631.90" y1="404.92" x2="631.90" y2="390.33" stroke="#f8d0a4" stroke-width="0.9" />
<line x1="629.50" y1="404.92" x2="634.30" y2="404.92" stroke="#f8d0a4" stroke-width="0.9" />
<line x1="629.50" y1="390.33" x2="634.30" y2="390.33" stroke="#f8d0a4" stroke-width="0.9" />
<line x1="660.70" y1="401.53" x2="660.70" y2="391.35" stroke="#f8d0a4" stroke-width="0.9" />
<line x1="658.30" y1="401.53" x2="663.10" y2="401.53" stroke="#f8d0a4" stroke-width="0.9" />
<line x1="658.30" y1="391.35" x2="663.10" y2="391.35" stroke="#f8d0a4" stroke-width="0.9" />
<path d="M572.60,341.47 L602.50,360.13 L631.90,398.14 L660.70,396.44" fill="none" stroke="#f7bd7d" stroke-width="1.2"/>
<circle cx="572.60" cy="341.47" r="2.1" fill="#fff" stroke="#f7bd7d" stroke-width="1.2"/>
<circle cx="602.50" cy="360.13" r="2.1" fill="#fff" stroke="#f7bd7d" stroke-width="1.2"/>
<circle cx="631.90" cy="398.14" r="2.1" fill="#fff" stroke="#f7bd7d" stroke-width="1.2"/>
<circle cx="660.70" cy="396.44" r="2.1" fill="#fff" stroke="#f7bd7d" stroke-width="1.2"/>
<line x1="572.60" y1="382.19" x2="572.60" y2="368.28" stroke="#dfa35a" stroke-width="0.9" />
<line x1="570.20" y1="382.19" x2="575.00" y2="382.19" stroke="#dfa35a" stroke-width="0.9" />
<line x1="570.20" y1="368.28" x2="575.00" y2="368.28" stroke="#dfa35a" stroke-width="0.9" />
<line x1="602.50" y1="402.21" x2="602.50" y2="382.87" stroke="#dfa35a" stroke-width="0.9" />
<line x1="600.10" y1="402.21" x2="604.90" y2="402.21" stroke="#dfa35a" stroke-width="0.9" />
<line x1="600.10" y1="382.87" x2="604.90" y2="382.87" stroke="#dfa35a" stroke-width="0.9" />
<line x1="631.90" y1="411.71" x2="631.90" y2="406.28" stroke="#dfa35a" stroke-width="0.9" />
<line x1="629.50" y1="411.71" x2="634.30" y2="411.71" stroke="#dfa35a" stroke-width="0.9" />
<line x1="629.50" y1="406.28" x2="634.30" y2="406.28" stroke="#dfa35a" stroke-width="0.9" />
<line x1="660.70" y1="406.62" x2="660.70" y2="403.22" stroke="#dfa35a" stroke-width="0.9" />
<line x1="658.30" y1="406.62" x2="663.10" y2="406.62" stroke="#dfa35a" stroke-width="0.9" />
<line x1="658.30" y1="403.22" x2="663.10" y2="403.22" stroke="#dfa35a" stroke-width="0.9" />
<path d="M572.60,375.40 L602.50,392.37 L631.90,408.99 L660.70,404.92" fill="none" stroke="#d0791a" stroke-width="1.2"/>
<circle cx="572.60" cy="375.40" r="2.3" fill="#d0791a"/>
<circle cx="602.50" cy="392.37" r="2.3" fill="#d0791a"/>
<circle cx="631.90" cy="408.99" r="2.3" fill="#d0791a"/>
<circle cx="660.70" cy="404.92" r="2.3" fill="#d0791a"/>
<line x1="589.20" y1="319.20" x2="600.70" y2="319.20" stroke="#f7bd7d" stroke-width="1.2" />
<circle cx="594.95" cy="319.20" r="2.1" fill="#fff" stroke="#f7bd7d" stroke-width="1.2"/>
<text x="606.60" y="323.20" font-size="11" text-anchor="start" font-weight="normal" fill="#000" stroke="#000" stroke-width="0.18">WT</text>
<line x1="589.20" y1="333.20" x2="600.70" y2="333.20" stroke="#d0791a" stroke-width="1.2" />
<circle cx="594.95" cy="333.20" r="2.3" fill="#d0791a"/>
<text x="606.60" y="337.20" font-size="11" text-anchor="start" font-weight="normal" fill="#000" stroke="#000" stroke-width="0.18">CART KO</text>
<path d="M35.50,503.70 L35.50,606.70 L163.80,606.70" fill="none" stroke="#1c1c1c" stroke-width="1.15"/>
<line x1="31.10" y1="606.70" x2="35.50" y2="606.70" stroke="#1c1c1c" stroke-width="1.15" />
<text x="29.50" y="610.65" font-size="11" text-anchor="end" font-weight="normal" fill="#000" stroke="#000" stroke-width="0.18">0</text>
<line x1="31.10" y1="586.20" x2="35.50" y2="586.20" stroke="#1c1c1c" stroke-width="1.15" />
<text x="29.50" y="590.15" font-size="11" text-anchor="end" font-weight="normal" fill="#000" stroke="#000" stroke-width="0.18">2</text>
<line x1="31.10" y1="565.70" x2="35.50" y2="565.70" stroke="#1c1c1c" stroke-width="1.15" />
<text x="29.50" y="569.65" font-size="11" text-anchor="end" font-weight="normal" fill="#000" stroke="#000" stroke-width="0.18">4</text>
<line x1="31.10" y1="545.20" x2="35.50" y2="545.20" stroke="#1c1c1c" stroke-width="1.15" />
<text x="29.50" y="549.15" font-size="11" text-anchor="end" font-weight="normal" fill="#000" stroke="#000" stroke-width="0.18">6</text>
<line x1="31.10" y1="524.70" x2="35.50" y2="524.70" stroke="#1c1c1c" stroke-width="1.15" />
<text x="29.50" y="528.65" font-size="11" text-anchor="end" font-weight="normal" fill="#000" stroke="#000" stroke-width="0.18">8</text>
<line x1="31.10" y1="504.20" x2="35.50" y2="504.20" stroke="#1c1c1c" stroke-width="1.15" />
<text x="29.50" y="508.15" font-size="11" text-anchor="end" font-weight="normal" fill="#000" stroke="#000" stroke-width="0.18">10</text>
<text x="60.80" y="617.70" font-size="11" text-anchor="middle" font-weight="normal" fill="#000" stroke="#000" stroke-width="0.18">1</text>
<text x="99.30" y="617.70" font-size="11" text-anchor="middle" font-weight="normal" fill="#000" stroke="#000" stroke-width="0.18">2</text>
<text x="137.70" y="617.70" font-size="11" text-anchor="middle" font-weight="normal" fill="#000" stroke="#000" stroke-width="0.18">5</text>
<text x="99.95" y="632.20" font-size="12.7" text-anchor="middle" font-weight="normal" fill="#000" stroke="#000" stroke-width="0.18">Sucrose conc. (%)</text>
<text x="0" y="0" font-size="12.9" stroke="#000" stroke-width="0.18" text-anchor="middle" textLength="90.6" lengthAdjust="spacingAndGlyphs" transform="translate(11.90,553.50) rotate(-90)">Intake/24hr (mL)</text>
<line x1="60.80" y1="599.53" x2="60.80" y2="587.23" stroke="#f8d0a4" stroke-width="0.9" />
<line x1="58.40" y1="599.53" x2="63.20" y2="599.53" stroke="#f8d0a4" stroke-width="0.9" />
<line x1="58.40" y1="587.23" x2="63.20" y2="587.23" stroke="#f8d0a4" stroke-width="0.9" />
<line x1="99.30" y1="590.30" x2="99.30" y2="575.95" stroke="#f8d0a4" stroke-width="0.9" />
<line x1="96.90" y1="590.30" x2="101.70" y2="590.30" stroke="#f8d0a4" stroke-width="0.9" />
<line x1="96.90" y1="575.95" x2="101.70" y2="575.95" stroke="#f8d0a4" stroke-width="0.9" />
<line x1="137.70" y1="565.70" x2="137.70" y2="534.95" stroke="#f8d0a4" stroke-width="0.9" />
<line x1="135.30" y1="565.70" x2="140.10" y2="565.70" stroke="#f8d0a4" stroke-width="0.9" />
<line x1="135.30" y1="534.95" x2="140.10" y2="534.95" stroke="#f8d0a4" stroke-width="0.9" />
<path d="M60.80,593.68 L99.30,583.12 L137.70,550.33" fill="none" stroke="#f7bd7d" stroke-width="1.2"/>
<circle cx="60.80" cy="593.68" r="2.1" fill="#fff" stroke="#f7bd7d" stroke-width="1.2"/>
<circle cx="99.30" cy="583.12" r="2.1" fill="#fff" stroke="#f7bd7d" stroke-width="1.2"/>
<circle cx="137.70" cy="550.33" r="2.1" fill="#fff" stroke="#f7bd7d" stroke-width="1.2"/>
<line x1="60.80" y1="604.14" x2="60.80" y2="601.58" stroke="#dfa35a" stroke-width="0.9" />
<line x1="58.40" y1="604.14" x2="63.20" y2="604.14" stroke="#dfa35a" stroke-width="0.9" />
<line x1="58.40" y1="601.58" x2="63.20" y2="601.58" stroke="#dfa35a" stroke-width="0.9" />
<line x1="99.30" y1="604.65" x2="99.30" y2="602.60" stroke="#dfa35a" stroke-width="0.9" />
<line x1="96.90" y1="604.65" x2="101.70" y2="604.65" stroke="#dfa35a" stroke-width="0.9" />
<line x1="96.90" y1="602.60" x2="101.70" y2="602.60" stroke="#dfa35a" stroke-width="0.9" />
<line x1="137.70" y1="546.23" x2="137.70" y2="524.19" stroke="#dfa35a" stroke-width="0.9" />
<line x1="135.30" y1="546.23" x2="140.10" y2="546.23" stroke="#dfa35a" stroke-width="0.9" />
<line x1="135.30" y1="524.19" x2="140.10" y2="524.19" stroke="#dfa35a" stroke-width="0.9" />
<path d="M60.80,602.81 L99.30,603.62 L137.70,534.95" fill="none" stroke="#d0791a" stroke-width="1.2"/>
<circle cx="60.80" cy="602.81" r="2.3" fill="#d0791a"/>
<circle cx="99.30" cy="603.62" r="2.3" fill="#d0791a"/>
<circle cx="137.70" cy="534.95" r="2.3" fill="#d0791a"/>
<line x1="43.40" y1="514.30" x2="54.60" y2="514.30" stroke="#f7bd7d" stroke-width="1.2" />
<circle cx="49.00" cy="514.30" r="2.1" fill="#fff" stroke="#f7bd7d" stroke-width="1.2"/>
<text x="60.80" y="518.30" font-size="11" text-anchor="start" font-weight="normal" fill="#000" stroke="#000" stroke-width="0.18">WT</text>
<line x1="43.40" y1="530.50" x2="54.60" y2="530.50" stroke="#d0791a" stroke-width="1.2" />
<circle cx="49.00" cy="530.50" r="2.3" fill="#d0791a"/>
<text x="60.80" y="534.50" font-size="11" text-anchor="start" font-weight="normal" fill="#000" stroke="#000" stroke-width="0.18">CART KO</text>
<path d="M201.50,506.70 L201.50,609.50 L329.00,609.50" fill="none" stroke="#1c1c1c" stroke-width="1.15"/>
<line x1="197.10" y1="609.50" x2="201.50" y2="609.50" stroke="#1c1c1c" stroke-width="1.15" />
<text x="195.50" y="613.45" font-size="11" text-anchor="end" font-weight="normal" fill="#000" stroke="#000" stroke-width="0.18">0</text>
<line x1="197.10" y1="589.04" x2="201.50" y2="589.04" stroke="#1c1c1c" stroke-width="1.15" />
<text x="195.50" y="592.99" font-size="11" text-anchor="end" font-weight="normal" fill="#000" stroke="#000" stroke-width="0.18">20</text>
<line x1="197.10" y1="568.58" x2="201.50" y2="568.58" stroke="#1c1c1c" stroke-width="1.15" />
<text x="195.50" y="572.53" font-size="11" text-anchor="end" font-weight="normal" fill="#000" stroke="#000" stroke-width="0.18">40</text>
<line x1="197.10" y1="548.12" x2="201.50" y2="548.12" stroke="#1c1c1c" stroke-width="1.15" />
<text x="195.50" y="552.07" font-size="11" text-anchor="end" font-weight="normal" fill="#000" stroke="#000" stroke-width="0.18">60</text>
<line x1="197.10" y1="527.66" x2="201.50" y2="527.66" stroke="#1c1c1c" stroke-width="1.15" />
<text x="195.50" y="531.61" font-size="11" text-anchor="end" font-weight="normal" fill="#000" stroke="#000" stroke-width="0.18">80</text>
<line x1="197.10" y1="507.20" x2="201.50" y2="507.20" stroke="#1c1c1c" stroke-width="1.15" />
<text x="195.50" y="511.15" font-size="11" text-anchor="end" font-weight="normal" fill="#000" stroke="#000" stroke-width="0.18">100</text>
<text x="227.00" y="620.50" font-size="11" text-anchor="middle" font-weight="normal" fill="#000" stroke="#000" stroke-width="0.18">1</text>
<text x="265.10" y="620.50" font-size="11" text-anchor="middle" font-weight="normal" fill="#000" stroke="#000" stroke-width="0.18">2</text>
<text x="303.70" y="620.50" font-size="11" text-anchor="middle" font-weight="normal" fill="#000" stroke="#000" stroke-width="0.18">5</text>
<text x="265.55" y="635.00" font-size="12.7" text-anchor="middle" font-weight="normal" fill="#000" stroke="#000" stroke-width="0.18">Sucrose conc. (%)</text>
<text x="0" y="0" font-size="12.9" stroke="#000" stroke-width="0.18" text-anchor="middle" textLength="83.4" lengthAdjust="spacingAndGlyphs" transform="translate(174.00,552.30) rotate(-90)">Preference (%)</text>
<line x1="203.00" y1="558.50" x2="330.00" y2="558.50" stroke="#3a3a3a" stroke-width="1.0" stroke-dasharray="1,1"/>
<line x1="227.00" y1="597.22" x2="227.00" y2="570.63" stroke="#f8d0a4" stroke-width="0.9" />
<line x1="224.60" y1="597.22" x2="229.40" y2="597.22" stroke="#f8d0a4" stroke-width="0.9" />
<line x1="224.60" y1="570.63" x2="229.40" y2="570.63" stroke="#f8d0a4" stroke-width="0.9" />
<line x1="265.10" y1="578.81" x2="265.10" y2="555.28" stroke="#f8d0a4" stroke-width="0.9" />
<line x1="262.70" y1="578.81" x2="267.50" y2="578.81" stroke="#f8d0a4" stroke-width="0.9" />
<line x1="262.70" y1="555.28" x2="267.50" y2="555.28" stroke="#f8d0a4" stroke-width="0.9" />
<line x1="303.70" y1="563.47" x2="303.70" y2="535.84" stroke="#f8d0a4" stroke-width="0.9" />
<line x1="301.30" y1="563.47" x2="306.10" y2="563.47" stroke="#f8d0a4" stroke-width="0.9" />
<line x1="301.30" y1="535.84" x2="306.10" y2="535.84" stroke="#f8d0a4" stroke-width="0.9" />
<path d="M227.00,583.92 L265.10,567.56 L303.70,549.14" fill="none" stroke="#f7bd7d" stroke-width="1.2"/>
<circle cx="227.00" cy="583.92" r="2.1" fill="#fff" stroke="#f7bd7d" stroke-width="1.2"/>
<circle cx="265.10" cy="567.56" r="2.1" fill="#fff" stroke="#f7bd7d" stroke-width="1.2"/>
<circle cx="303.70" cy="549.14" r="2.1" fill="#fff" stroke="#f7bd7d" stroke-width="1.2"/>
<line x1="227.00" y1="603.36" x2="227.00" y2="597.22" stroke="#dfa35a" stroke-width="0.9" />
<line x1="224.60" y1="603.36" x2="229.40" y2="603.36" stroke="#dfa35a" stroke-width="0.9" />
<line x1="224.60" y1="597.22" x2="229.40" y2="597.22" stroke="#dfa35a" stroke-width="0.9" />
<line x1="265.10" y1="602.85" x2="265.10" y2="599.78" stroke="#dfa35a" stroke-width="0.9" />
<line x1="262.70" y1="602.85" x2="267.50" y2="602.85" stroke="#dfa35a" stroke-width="0.9" />
<line x1="262.70" y1="599.78" x2="267.50" y2="599.78" stroke="#dfa35a" stroke-width="0.9" />
<line x1="303.70" y1="526.64" x2="303.70" y2="514.36" stroke="#dfa35a" stroke-width="0.9" />
<line x1="301.30" y1="526.64" x2="306.10" y2="526.64" stroke="#dfa35a" stroke-width="0.9" />
<line x1="301.30" y1="514.36" x2="306.10" y2="514.36" stroke="#dfa35a" stroke-width="0.9" />
<path d="M227.00,600.29 L265.10,601.32 L303.70,520.50" fill="none" stroke="#d0791a" stroke-width="1.2"/>
<circle cx="227.00" cy="600.29" r="2.3" fill="#d0791a"/>
<circle cx="265.10" cy="601.32" r="2.3" fill="#d0791a"/>
<circle cx="303.70" cy="520.50" r="2.3" fill="#d0791a"/>
<line x1="211.20" y1="515.00" x2="222.30" y2="515.00" stroke="#f7bd7d" stroke-width="1.2" />
<circle cx="216.75" cy="515.00" r="2.1" fill="#fff" stroke="#f7bd7d" stroke-width="1.2"/>
<text x="228.30" y="519.00" font-size="11" text-anchor="start" font-weight="normal" fill="#000" stroke="#000" stroke-width="0.18">WT</text>
<line x1="211.20" y1="527.60" x2="222.30" y2="527.60" stroke="#d0791a" stroke-width="1.2" />
<circle cx="216.75" cy="527.60" r="2.3" fill="#d0791a"/>
<text x="228.30" y="531.60" font-size="11" text-anchor="start" font-weight="normal" fill="#000" stroke="#000" stroke-width="0.18">CART KO</text>
<path d="M626.3,319.4 L660.6,319.4 L660.6,334.0 L657.8,334.0" fill="none" stroke="#1a1a1a" stroke-width="1.1"/>
<text x="0" y="0" font-size="26.3" font-weight="normal" fill="#000" transform="translate(-1.69,126.60) scale(0.8528,1)" stroke="#000" stroke-width="0.55">B</text>
<text x="0" y="0" font-size="26.3" font-weight="normal" fill="#000" transform="translate(361.47,126.80) scale(0.7844,1)" stroke="#000" stroke-width="0.55">C</text>
<text x="0" y="0" font-size="26.3" font-weight="normal" fill="#000" transform="translate(-1.78,301.80) scale(0.8947,1)" stroke="#000" stroke-width="0.55">D</text>
<text x="0" y="0" font-size="26.3" font-weight="normal" fill="#000" transform="translate(362.26,301.80) scale(0.6837,1)" stroke="#000" stroke-width="0.55">E</text>
<text x="0" y="0" font-size="26.3" font-weight="normal" fill="#000" transform="translate(-1.42,486.20) scale(0.7217,1)" stroke="#000" stroke-width="0.55">F</text>
<text x="0" y="0" font-size="29.5" font-weight="normal" fill="#000" transform="translate(2.40,18.70) scale(0.7901,1)" stroke="#111" stroke-width="0.4">A</text>
<text x="0" y="0" font-size="19.3" font-weight="normal" fill="#000" transform="translate(144.02,124.60) scale(1.0116,1)" stroke="#000" stroke-width="0.25">Sweet</text>
<text x="0" y="0" font-size="19.3" font-weight="normal" fill="#000" transform="translate(509.34,124.60) scale(0.9887,1)" stroke="#000" stroke-width="0.25">Salty</text>
<text x="0" y="0" font-size="19.3" font-weight="normal" fill="#000" transform="translate(151.23,299.90) scale(1.0034,1)" stroke="#000" stroke-width="0.25">Sour</text>
<text x="0" y="0" font-size="19.3" font-weight="normal" fill="#000" transform="translate(506.31,299.70) scale(1.0965,1)" stroke="#000" stroke-width="0.25">Bitter</text>
<text x="0" y="0" font-size="19.3" font-weight="normal" fill="#000" transform="translate(109.47,483.40) scale(1.0553,1)" stroke="#000" stroke-width="0.25">Bitter + sweet</text>
<text x="0" y="0" font-size="17" font-weight="normal" fill="#000" transform="translate(665.04,336.30) scale(1.0131,1)" >*</text>
<circle cx="98.80" cy="122.50" r="5.25" fill="none" stroke="#000" stroke-width="1.6"/>
<line x1="102.51" y1="118.79" x2="106.50" y2="114.75" stroke="#000" stroke-width="1.5" />
<path d="M102.00,113.70 L107.70,113.55 L107.55,119.25" fill="none" stroke="#000" stroke-width="1.5"/>
<path d="M108.00,113.25 L103.40,113.55 L107.70,117.85 Z" fill="#000"/>
<circle cx="263.40" cy="121.40" r="5.50" fill="none" stroke="#000" stroke-width="1.5"/>
<line x1="263.40" y1="126.90" x2="263.40" y2="133.60" stroke="#000" stroke-width="1.5" />
<line x1="260.00" y1="130.60" x2="266.80" y2="130.60" stroke="#000" stroke-width="1.5" />
<circle cx="449.70" cy="126.60" r="5.25" fill="none" stroke="#000" stroke-width="1.6"/>
<line x1="453.41" y1="122.89" x2="457.40" y2="118.85" stroke="#000" stroke-width="1.5" />
<path d="M452.90,117.80 L458.60,117.65 L458.45,123.35" fill="none" stroke="#000" stroke-width="1.5"/>
<path d="M458.90,117.35 L454.30,117.65 L458.60,121.95 Z" fill="#000"/>
<circle cx="614.30" cy="125.40" r="5.50" fill="none" stroke="#000" stroke-width="1.5"/>
<line x1="614.30" y1="130.90" x2="614.30" y2="137.60" stroke="#000" stroke-width="1.5" />
<line x1="610.90" y1="134.60" x2="617.70" y2="134.60" stroke="#000" stroke-width="1.5" />
<circle cx="98.90" cy="301.70" r="5.25" fill="none" stroke="#000" stroke-width="1.6"/>
<line x1="102.61" y1="297.99" x2="106.60" y2="293.95" stroke="#000" stroke-width="1.5" />
<path d="M102.10,292.90 L107.80,292.75 L107.65,298.45" fill="none" stroke="#000" stroke-width="1.5"/>
<path d="M108.10,292.45 L103.50,292.75 L107.80,297.05 Z" fill="#000"/>
<circle cx="267.50" cy="300.70" r="5.50" fill="none" stroke="#000" stroke-width="1.5"/>
<line x1="267.50" y1="306.20" x2="267.50" y2="312.90" stroke="#000" stroke-width="1.5" />
<line x1="264.10" y1="309.90" x2="270.90" y2="309.90" stroke="#000" stroke-width="1.5" />
<circle cx="445.60" cy="297.60" r="5.25" fill="none" stroke="#000" stroke-width="1.6"/>
<line x1="449.31" y1="293.89" x2="453.30" y2="289.85" stroke="#000" stroke-width="1.5" />
<path d="M448.80,288.80 L454.50,288.65 L454.35,294.35" fill="none" stroke="#000" stroke-width="1.5"/>
<path d="M454.80,288.35 L450.20,288.65 L454.50,292.95 Z" fill="#000"/>
<circle cx="618.40" cy="296.40" r="5.50" fill="none" stroke="#000" stroke-width="1.5"/>
<line x1="618.40" y1="301.90" x2="618.40" y2="308.60" stroke="#000" stroke-width="1.5" />
<line x1="615.00" y1="305.60" x2="621.80" y2="305.60" stroke="#000" stroke-width="1.5" />
<circle cx="92.10" cy="484.00" r="5.50" fill="none" stroke="#000" stroke-width="1.5"/>
<line x1="92.10" y1="489.50" x2="92.10" y2="496.20" stroke="#000" stroke-width="1.5" />
<line x1="88.70" y1="493.20" x2="95.50" y2="493.20" stroke="#000" stroke-width="1.5" />
<circle cx="267.50" cy="484.20" r="5.50" fill="none" stroke="#000" stroke-width="1.5"/>
<line x1="267.50" y1="489.70" x2="267.50" y2="496.40" stroke="#000" stroke-width="1.5" />
<line x1="264.10" y1="493.40" x2="270.90" y2="493.40" stroke="#000" stroke-width="1.5" />
<text x="0" y="0" font-size="10.0" font-weight="normal" fill="#1a1a1a" transform="translate(32.08,36.70) scale(1.0633,1)" stroke="#1a1a1a" stroke-width="0.22">saccharin</text>
<text x="0" y="0" font-size="10.0" font-weight="bold" fill="#1a1a1a" transform="translate(32.04,48.60) scale(0.9097,1)" stroke="#1a1a1a" stroke-width="0.22">OR</text>
<text x="0" y="0" font-size="10.0" font-weight="normal" fill="#1a1a1a" transform="translate(48.19,48.60) scale(1.0120,1)" stroke="#1a1a1a" stroke-width="0.22">NaCl</text>
<text x="0" y="0" font-size="10.0" font-weight="bold" fill="#1a1a1a" transform="translate(32.04,60.50) scale(0.9097,1)" stroke="#1a1a1a" stroke-width="0.22">OR</text>
<text x="0" y="0" font-size="10.0" font-weight="normal" fill="#1a1a1a" transform="translate(48.57,60.50) scale(1.0788,1)" stroke="#1a1a1a" stroke-width="0.22">citric acid</text>
<text x="0" y="0" font-size="10.0" font-weight="bold" fill="#1a1a1a" transform="translate(32.04,72.20) scale(0.9097,1)" stroke="#1a1a1a" stroke-width="0.22">OR</text>
<text x="0" y="0" font-size="10.0" font-weight="normal" fill="#1a1a1a" transform="translate(48.58,72.20) scale(1.0510,1)" stroke="#1a1a1a" stroke-width="0.22">quinine</text>
<text x="0" y="0" font-size="10.0" font-weight="bold" fill="#1a1a1a" transform="translate(32.04,84.30) scale(0.9097,1)" stroke="#1a1a1a" stroke-width="0.22">OR</text>
<text x="0" y="0" font-size="10.0" font-weight="normal" fill="#1a1a1a" transform="translate(48.59,84.30) scale(1.0168,1)" stroke="#1a1a1a" stroke-width="0.22">quinine + 1-5% sucrose</text>
<text x="0" y="0" font-size="10.0" font-weight="normal" fill="#1a1a1a" transform="translate(305.60,56.40) scale(1.0227,1)" stroke="#1a1a1a" stroke-width="0.22">water</text>
<text x="0" y="0" font-size="10.3" font-weight="normal" fill="#1a1a1a" transform="translate(336.70,18.90) scale(0.9766,1)" stroke="#1a1a1a" stroke-width="0.22">Day</text>
<line x1="363" y1="22.6" x2="657" y2="22.6" stroke="#3a3a3a" stroke-width="1.5"/>
<path d="M662.6,22.6 L655.6,19.5 L655.6,25.9 Z" fill="#3a3a3a" stroke="#3a3a3a" stroke-width="0.4" stroke-linejoin="round"/>
<line x1="366.90" y1="20.20" x2="366.90" y2="26.80" stroke="#3a3a3a" stroke-width="1.0" />
<text x="366.90" y="17.90" font-size="10.3" text-anchor="middle" font-weight="normal" fill="#1a1a1a" stroke="#1a1a1a" stroke-width="0.22">1</text>
<line x1="403.10" y1="20.20" x2="403.10" y2="26.80" stroke="#3a3a3a" stroke-width="1.0" />
<text x="403.10" y="17.90" font-size="10.3" text-anchor="middle" font-weight="normal" fill="#1a1a1a" stroke="#1a1a1a" stroke-width="0.22">4</text>
<line x1="423.50" y1="20.20" x2="423.50" y2="26.80" stroke="#3a3a3a" stroke-width="1.0" />
<text x="423.50" y="17.90" font-size="10.3" text-anchor="middle" font-weight="normal" fill="#1a1a1a" stroke="#1a1a1a" stroke-width="0.22">8</text>
<line x1="458.70" y1="20.20" x2="458.70" y2="26.80" stroke="#3a3a3a" stroke-width="1.0" />
<text x="458.70" y="17.90" font-size="10.3" text-anchor="middle" font-weight="normal" fill="#1a1a1a" stroke="#1a1a1a" stroke-width="0.22">11</text>
<line x1="480.30" y1="20.20" x2="480.30" y2="26.80" stroke="#3a3a3a" stroke-width="1.0" />
<text x="480.30" y="17.90" font-size="10.3" text-anchor="middle" font-weight="normal" fill="#1a1a1a" stroke="#1a1a1a" stroke-width="0.22">15</text>
<line x1="520.80" y1="20.20" x2="520.80" y2="26.80" stroke="#3a3a3a" stroke-width="1.0" />
<text x="520.80" y="17.90" font-size="10.3" text-anchor="middle" font-weight="normal" fill="#1a1a1a" stroke="#1a1a1a" stroke-width="0.22">18</text>
<line x1="540.00" y1="20.20" x2="540.00" y2="26.80" stroke="#3a3a3a" stroke-width="1.0" />
<text x="540.00" y="17.90" font-size="10.3" text-anchor="middle" font-weight="normal" fill="#1a1a1a" stroke="#1a1a1a" stroke-width="0.22">22</text>
<line x1="581.80" y1="20.20" x2="581.80" y2="26.80" stroke="#3a3a3a" stroke-width="1.0" />
<text x="581.80" y="17.90" font-size="10.3" text-anchor="middle" font-weight="normal" fill="#1a1a1a" stroke="#1a1a1a" stroke-width="0.22">26</text>
<line x1="612.30" y1="20.20" x2="612.30" y2="26.80" stroke="#3a3a3a" stroke-width="1.0" />
<text x="612.30" y="17.90" font-size="10.3" text-anchor="middle" font-weight="normal" fill="#1a1a1a" stroke="#1a1a1a" stroke-width="0.22">35</text>
<line x1="643.40" y1="20.20" x2="643.40" y2="26.80" stroke="#3a3a3a" stroke-width="1.0" />
<text x="643.40" y="17.90" font-size="10.3" text-anchor="middle" font-weight="normal" fill="#1a1a1a" stroke="#1a1a1a" stroke-width="0.22">37</text>
<line x1="368.40" y1="34.60" x2="402.60" y2="34.60" stroke="#3a3a3a" stroke-width="0.9" stroke-dasharray="2.3,2.9"/>
<line x1="366.90" y1="31.40" x2="366.90" y2="37.90" stroke="#3a3a3a" stroke-width="0.9" />
<line x1="403.10" y1="31.40" x2="403.10" y2="37.90" stroke="#3a3a3a" stroke-width="0.9" />
<line x1="425.00" y1="34.60" x2="458.20" y2="34.60" stroke="#3a3a3a" stroke-width="0.9" stroke-dasharray="2.3,2.9"/>
<line x1="423.50" y1="31.40" x2="423.50" y2="37.90" stroke="#3a3a3a" stroke-width="0.9" />
<line x1="458.70" y1="31.40" x2="458.70" y2="37.90" stroke="#3a3a3a" stroke-width="0.9" />
<line x1="481.80" y1="34.60" x2="520.30" y2="34.60" stroke="#3a3a3a" stroke-width="0.9" stroke-dasharray="2.3,2.9"/>
<line x1="480.30" y1="31.40" x2="480.30" y2="37.90" stroke="#3a3a3a" stroke-width="0.9" />
<line x1="520.80" y1="31.40" x2="520.80" y2="37.90" stroke="#3a3a3a" stroke-width="0.9" />
<line x1="541.50" y1="34.60" x2="581.30" y2="34.60" stroke="#3a3a3a" stroke-width="0.9" stroke-dasharray="2.3,2.9"/>
<line x1="540.00" y1="31.40" x2="540.00" y2="37.90" stroke="#3a3a3a" stroke-width="0.9" />
<line x1="581.80" y1="31.40" x2="581.80" y2="37.90" stroke="#3a3a3a" stroke-width="0.9" />
<line x1="613.80" y1="34.60" x2="642.90" y2="34.60" stroke="#3a3a3a" stroke-width="0.9" stroke-dasharray="2.3,2.9"/>
<line x1="612.30" y1="31.40" x2="612.30" y2="37.90" stroke="#3a3a3a" stroke-width="0.9" />
<line x1="643.40" y1="31.40" x2="643.40" y2="37.90" stroke="#3a3a3a" stroke-width="0.9" />
<text x="0" y="0" font-size="10.3" font-weight="normal" fill="#1a1a1a" transform="translate(359.46,48.50) scale(1.1159,1)" stroke="#1a1a1a" stroke-width="0.22">saccharin</text>
<text x="0" y="0" font-size="10.3" font-weight="normal" fill="#1a1a1a" transform="translate(429.01,48.50) scale(1.0761,1)" stroke="#1a1a1a" stroke-width="0.22">NaCl</text>
<text x="0" y="0" font-size="10.3" font-weight="normal" fill="#1a1a1a" transform="translate(476.23,48.50) scale(1.1359,1)" stroke="#1a1a1a" stroke-width="0.22">citric acid</text>
<text x="0" y="0" font-size="10.3" font-weight="normal" fill="#1a1a1a" transform="translate(542.85,48.50) scale(1.0976,1)" stroke="#1a1a1a" stroke-width="0.22">quinine</text>
<text x="0" y="0" font-size="10.3" font-weight="normal" fill="#1a1a1a" transform="translate(602.27,48.50) scale(1.0548,1)" stroke="#1a1a1a" stroke-width="0.22">0.01% quinine</text>
<text x="0" y="0" font-size="10.3" font-weight="normal" fill="#1a1a1a" transform="translate(602.16,61.00) scale(1.0485,1)" stroke="#1a1a1a" stroke-width="0.22">+ 1-5% sucrose</text>

<g>
  <!-- cage body -->
  <path d="M162.6,34 L284.3,34 L284.3,82.2 Q284.3,85.6 280.8,85.6 L166.2,85.6 Q162.6,85.6 162.6,82.2 Z" fill="#f2f6fb" stroke="#bcc7d3" stroke-width="0.8"/>
  <!-- bedding -->
  <path d="M163.4,80 Q172,79.2 185,79.6 Q200,80.1 212,79.2 Q228,78.6 245,79.4 Q262,80 270,79 Q277,78.6 283.5,79.2 L283.5,84.6 L163.4,84.6 Z" fill="#c5a277"/>
  <rect x="163.2" y="84.4" width="120.6" height="1" fill="#d8e1ea"/>
  <!-- lid -->
  <path d="M161,22.9 L286.6,22.9 Q287.6,22.9 287.6,24 L287.6,34.2 L160,34.2 L160,24 Q160,22.9 161,22.9 Z" fill="#69a46a"/>
  <rect x="160" y="23.6" width="127.6" height="1.5" fill="#5d985e"/>
  <rect x="160" y="27.2" width="127.6" height="1.4" fill="#5d985e"/>
  <rect x="160" y="32.9" width="127.6" height="1.3" fill="#609e60"/>
  <!-- food hopper -->
  <path d="M170.2,34.3 L194.7,34.3 L192,44.2 Q191.5,45.7 189.8,45.7 L175.2,45.7 Q173.6,45.7 173.2,44.2 Z" fill="#ecf0f5" stroke="#b9c4cf" stroke-width="0.6"/>
  <g fill="#8d5a2b">
    <circle cx="177.2" cy="35.6" r="1.5"/>
    <circle cx="175" cy="38.6" r="2.1"/><circle cx="178.6" cy="38.2" r="2.0"/><circle cx="182.2" cy="38.7" r="2.0"/><circle cx="185.8" cy="38.3" r="2.0"/><circle cx="189.2" cy="38.8" r="2.0"/><circle cx="192.6" cy="38.6" r="1.5"/>
    <circle cx="176.8" cy="41.2" r="1.8"/><circle cx="180.3" cy="41.6" r="2.1"/><circle cx="183.8" cy="42.3" r="2.1"/><circle cx="187.2" cy="41.5" r="2.0"/><circle cx="190" cy="41.0" r="1.5"/>
    <circle cx="181.8" cy="44.0" r="1.6"/><circle cx="185.2" cy="44.2" r="1.4"/>
  </g>
  <!-- mouse -->
  <path d="M177.4,66.6 Q179.3,60.6 183.5,56.2 Q185.8,57.2 188,58.4 Q195.2,56.6 199.4,62.4 Q202.9,67.6 202.1,73.2 Q201.5,78.2 199,80.3 L193.5,80.3 Q192,79.2 190.5,80.3 L187.3,80.3 Q185.9,77.5 185.7,74 Q183,72 180.4,70.2 Q178,68.9 177.4,66.6 Z" fill="#4b4846"/>
  <ellipse cx="186.6" cy="59.8" rx="1.7" ry="2.3" fill="#ad8682"/>
  <circle cx="181.3" cy="63.6" r="0.75" fill="#1d1d1d"/>
  <circle cx="177.7" cy="66.9" r="0.7" fill="#c99a98"/>
  <ellipse cx="180.8" cy="70.8" rx="1.3" ry="0.9" fill="#d49e9c"/>
  <path d="M200,78.8 Q206,78 212,78.2 Q218,78.6 220.5,80.2 Q223,82 223,85" fill="none" stroke="#c19390" stroke-width="1.1"/>
  <!-- left bottle -->
  <g transform="translate(145.3,9.25) rotate(-14.5)">
    <path d="M-9.4,2 Q-9.4,0 -7.4,-0.2 Q0,-1.2 7.4,-0.2 Q9.4,0 9.4,2 L9.4,36 L5,40.5 L-5,40.5 L-9.4,36 Z" fill="#bdbec0" stroke="#a8aaac" stroke-width="0.5"/>
    <path d="M-9.4,2 Q-9.4,0 -7.4,-0.2 Q0,-1.2 7.4,-0.2 Q9.4,0 9.4,2 L9.4,16.5 L-9.4,16.5 Z" fill="#e0e4e7" stroke="#c4c8cb" stroke-width="0.5"/>
    <rect x="-9.2" y="13" width="18.4" height="3.2" fill="#eceff1"/>
    <rect x="4.2" y="16.6" width="4.9" height="19" fill="#cdced0"/>
    <path d="M-9.4,36 L-5,40.5 L5,40.5 L9.4,36 Z" fill="#c6c7c9"/>
    <rect x="-4.6" y="40.5" width="9.2" height="7" fill="#6f7071"/>
  </g>
  <path d="M157.3,57.6 L158.3,61.6 Q159,63.4 161,64.6 L170.6,70.1" fill="none" stroke="#8d8e90" stroke-width="1.25" stroke-linejoin="round"/>
  <!-- right bottle -->
  <g transform="translate(305.5,12.35) rotate(17.6)">
    <path d="M-9.4,2 Q-9.4,0 -7.4,-0.2 Q0,-1.2 7.4,-0.2 Q9.4,0 9.4,2 L9.4,33.5 L5,38.5 L-5,38.5 L-9.4,33.5 Z" fill="#d6d9dc" stroke="#bfc3c7" stroke-width="0.5"/>
    <path d="M-9.4,2 Q-9.4,0 -7.4,-0.2 Q0,-1.2 7.4,-0.2 Q9.4,0 9.4,2 L9.4,8.5 L-9.4,8.5 Z" fill="#e2e5e8"/>
    <line x1="-9.4" y1="8.6" x2="9.4" y2="8.6" stroke="#c3c7cb" stroke-width="0.7"/>
    <rect x="-8.4" y="9.2" width="3.2" height="24" fill="#e8eaec"/>
    <path d="M-9.4,33.5 L-5,38.5 L5,38.5 L9.4,33.5 Z" fill="#cfd2d5"/>
    <rect x="-4.2" y="38.3" width="8.4" height="6.2" fill="#4b80d8"/>
  </g>
  <path d="M290.2,58.6 Q289.2,61.6 286,63 L274.2,67.2" fill="none" stroke="#9a9b9d" stroke-width="1.25" stroke-linejoin="round"/>
</g>

</svg>
</body></html>
